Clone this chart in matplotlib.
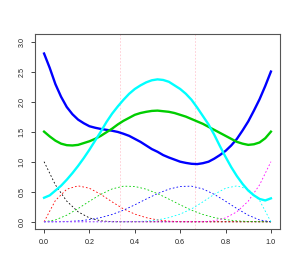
import matplotlib
matplotlib.use("Agg")
import matplotlib.pyplot as plt

# sample positions for the dotted basis functions
x_basis = [0.00, 0.05, 0.10, 0.15, 0.20, 0.25, 0.30, 0.35, 0.40, 0.45, 0.50,
           0.55, 0.60, 0.65, 0.70, 0.75, 0.80, 0.85, 0.90, 0.95, 1.00]

basis_black = [1.000, 0.614, 0.343, 0.166, 0.064, 0.016, 0.001, 0, 0, 0, 0,
               0, 0, 0, 0, 0, 0, 0, 0, 0, 0]
basis_red = [0.000, 0.355, 0.542, 0.598, 0.558, 0.457, 0.331, 0.214, 0.128, 0.069, 0.031,
             0.011, 0.002, 0.000, 0, 0, 0, 0, 0, 0, 0]
basis_green = [0.000, 0.031, 0.110, 0.220, 0.342, 0.457, 0.547, 0.593, 0.588, 0.543, 0.469,
               0.378, 0.282, 0.193, 0.122, 0.070, 0.036, 0.015, 0.005, 0.001, 0.000]
basis_blue = [0.000, 0.001, 0.005, 0.015, 0.036, 0.070, 0.122, 0.193, 0.282, 0.378, 0.469,
              0.543, 0.588, 0.593, 0.547, 0.457, 0.342, 0.220, 0.110, 0.031, 0.000]
basis_cyan = [0, 0, 0, 0, 0, 0, 0, 0.000, 0.002, 0.011, 0.031,
              0.069, 0.128, 0.214, 0.331, 0.457, 0.558, 0.598, 0.542, 0.355, 0.000]
basis_magenta = [0, 0, 0, 0, 0, 0, 0, 0, 0, 0, 0,
                 0, 0, 0, 0.001, 0.016, 0.064, 0.166, 0.343, 0.614, 1.000]

# sample positions for the thick curves
x_curve = [0.000, 0.025, 0.050, 0.075, 0.100, 0.125, 0.150, 0.175, 0.200, 0.225,
           0.250, 0.275, 0.300, 0.325, 0.350, 0.375, 0.400, 0.425, 0.450, 0.475,
           0.500, 0.525, 0.550, 0.575, 0.600, 0.625, 0.650, 0.675, 0.700, 0.725,
           0.750, 0.775, 0.800, 0.825, 0.850, 0.875, 0.900, 0.925, 0.950, 0.975, 1.000]

curve_blue = [2.80, 2.56, 2.29, 2.08, 1.91, 1.79, 1.70, 1.64, 1.59, 1.565,
              1.545, 1.53, 1.515, 1.495, 1.465, 1.43, 1.38, 1.33, 1.27, 1.21,
              1.165, 1.11, 1.07, 1.035, 1.00, 0.98, 0.965, 0.96, 0.975, 1.00,
              1.05, 1.11, 1.18, 1.27, 1.38, 1.52, 1.67, 1.85, 2.04, 2.26, 2.50]
curve_green = [1.50, 1.42, 1.35, 1.30, 1.275, 1.27, 1.28, 1.31, 1.34, 1.38,
               1.43, 1.49, 1.55, 1.62, 1.68, 1.73, 1.78, 1.81, 1.83, 1.845,
               1.85, 1.84, 1.83, 1.81, 1.78, 1.75, 1.71, 1.67, 1.63, 1.58,
               1.53, 1.48, 1.43, 1.38, 1.33, 1.30, 1.28, 1.29, 1.32, 1.39, 1.50]
curve_cyan = [0.40, 0.44, 0.52, 0.60, 0.70, 0.81, 0.93, 1.06, 1.20, 1.35,
              1.50, 1.66, 1.80, 1.92, 2.03, 2.13, 2.21, 2.27, 2.32, 2.355,
              2.37, 2.36, 2.33, 2.27, 2.21, 2.13, 2.03, 1.90, 1.76, 1.62,
              1.45, 1.26, 1.08, 0.91, 0.76, 0.63, 0.52, 0.44, 0.38, 0.355, 0.39]

knots = [1 / 3, 2 / 3]
xticks = [0.0, 0.2, 0.4, 0.6, 0.8, 1.0]
yticks = [0.0, 0.5, 1.0, 1.5, 2.0, 2.5, 3.0]


def main():
    plt.rcParams['font.family'] = ['Liberation Sans', 'DejaVu Sans']
    fig = plt.figure(figsize=(2.98, 2.73), dpi=100)
    ax = fig.add_axes([35 / 298, 1 - 229 / 273, 245 / 298, (229 - 34.3) / 273])

    for k in knots:
        ax.axvline(k, color='#ffc8d0', lw=0.6, ls=(0, (2, 2)), zorder=1)

    dots = (0, (2, 2.5))
    ax.plot(x_basis, basis_black, color='black', lw=0.6, ls=dots)
    ax.plot(x_basis, basis_red, color='red', lw=0.6, ls=dots)
    ax.plot(x_basis, basis_green, color='#00cd00', lw=0.6, ls=dots)
    ax.plot(x_basis, basis_blue, color='blue', lw=0.6, ls=dots)
    ax.plot(x_basis, basis_cyan, color='cyan', lw=0.6, ls=dots)
    ax.plot(x_basis, basis_magenta, color='magenta', lw=0.6, ls=dots)

    ax.plot(x_curve, curve_blue, color='blue', lw=1.7)
    ax.plot(x_curve, curve_green, color='#00cd00', lw=1.7)
    ax.plot(x_curve, curve_cyan, color='cyan', lw=1.7)

    ax.set_xlim(-0.04, 1.04)
    ax.set_ylim(-0.12, 3.12)
    ax.set_xticks(xticks)
    ax.set_xticklabels([f"{t:.1f}" for t in xticks])
    ax.set_yticks(yticks)
    ax.set_yticklabels([f"{t:.1f}" for t in yticks], rotation=90, va='center')
    ax.tick_params(length=3, width=0.7, color='#444444', labelsize=5.2,
                   labelcolor='#222222', pad=4)
    for sp in ax.spines.values():
        sp.set_color('#555555')
        sp.set_linewidth(0.8)

    fig.savefig('out.png', dpi=100)


if __name__ == '__main__':
    main()
